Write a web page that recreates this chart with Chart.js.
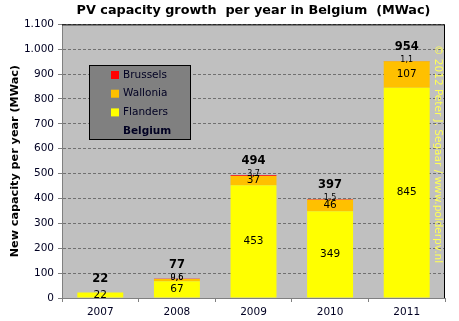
<!DOCTYPE html>
<html>
<head>
<meta charset="utf-8">
<script src="https://cdn.jsdelivr.net/npm/chart.js@4/dist/chart.umd.min.js"></script>
<style>
  html, body { margin: 0; padding: 0; background: #fff; }
  #wrap { width: 459px; height: 321px; }
</style>
</head>
<body>
<div id="wrap"><canvas id="pv"></canvas></div>
<script>
const years = ['2007', '2008', '2009', '2010', '2011'];
const flanders = [22, 67, 453, 349, 845];
const wallonia = [0, 9.6, 37, 46, 107];
const brussels = [0, 0.6, 3.7, 1.5, 1.1];
const totals = [22, 77, 494, 397, 954];
const yTicksMax = 1100;

const fmt = v => v.toLocaleString('nl-BE', { maximumFractionDigits: 1 });

// labels inside segments, totals on top, frame, legend box, watermark
const decor = {
  id: 'decor',
  beforeDatasetsDraw(chart) {
    const { ctx, chartArea: a } = chart;
    ctx.save();
    ctx.strokeStyle = '#000';
    ctx.lineWidth = 1;
    ctx.beginPath();
    ctx.moveTo(a.left, a.top + 0.5);
    ctx.lineTo(a.right - 0.5, a.top + 0.5);
    ctx.lineTo(a.right - 0.5, a.bottom);
    ctx.stroke();
    ctx.restore();
  },
  afterDatasetsDraw(chart) {
    const { ctx } = chart;
    ctx.save();
    ctx.textAlign = 'center';
    ctx.textBaseline = 'middle';
    ctx.fillStyle = '#000';
    chart.data.datasets.forEach((ds, i) => {
      const meta = chart.getDatasetMeta(i);
      meta.data.forEach((bar, j) => {
        const v = ds.data[j];
        if (!v) return;
        const small = v < 10;
        ctx.font = (small ? '8px' : '10.5px') + ' "DejaVu Sans"';
        const y = small ? Math.min(bar.y, bar.base) - 1 : (bar.y + bar.base) / 2;
        ctx.fillText(fmt(v), bar.x, y);
      });
    });
    const top = chart.getDatasetMeta(chart.data.datasets.length - 1);
    ctx.font = 'bold 11.5px "DejaVu Sans"';
    top.data.forEach((bar, j) => {
      const y = chart.scales.y.getPixelForValue(totals[j]);
      ctx.fillText(fmt(totals[j]), bar.x, y - 14);
    });

    // legend box
    const lx = 89, ly = 65, lw = 101, lh = 74;
    ctx.fillStyle = '#808080';
    ctx.fillRect(lx, ly, lw, lh);
    ctx.strokeStyle = '#000';
    ctx.strokeRect(lx + 0.5, ly + 0.5, lw, lh);
    const items = [...chart.data.datasets].reverse();
    ctx.textAlign = 'left';
    items.forEach((ds, k) => {
      const cy = ly + 10 + k * 18.7;
      ctx.fillStyle = ds.backgroundColor;
      ctx.fillRect(111, cy - 4, 8, 8);
      ctx.fillStyle = '#000022';
      ctx.font = '10.5px "DejaVu Sans"';
      ctx.fillText(ds.label, 123, cy);
    });
    ctx.font = 'bold 10.5px "DejaVu Sans"';
    ctx.fillText('Belgium', 123, ly + 10 + 3 * 18.7);

    // watermark
    ctx.translate(438, 45);
    ctx.rotate(Math.PI / 2);
    ctx.fillStyle = '#FFFF55';
    ctx.font = '10.5px "DejaVu Sans"';
    ctx.fillText('\u00A9 2012 Peter J. Segaar / www.polderpv.nl', 0, 0);
    ctx.restore();
  }
};

new Chart(document.getElementById('pv'), {
  type: 'bar',
  data: {
    labels: years,
    datasets: [
      { label: 'Flanders', data: flanders, backgroundColor: '#FFFF00' },
      { label: 'Wallonia', data: wallonia, backgroundColor: '#FFC000' },
      { label: 'Brussels', data: brussels, backgroundColor: '#FF0000' }
    ]
  },
  options: {
    responsive: true,
    maintainAspectRatio: false,
    animation: false,
    layout: { padding: { left: 0, right: 14, top: 0, bottom: 0 } },
    datasets: { bar: { barPercentage: 0.6, categoryPercentage: 1 } },
    plugins: {
      legend: { display: false },
      tooltip: { enabled: false },
      title: {
        display: true,
        fullSize: false,
        text: 'PV capacity growth  per year in Belgium  (MWac)',
        color: '#000',
        font: { family: 'DejaVu Sans', size: 12.8, weight: 'bold' },
        padding: { top: 3, bottom: 6 }
      }
    },
    scales: {
      x: {
        stacked: true,
        grid: { display: true, drawOnChartArea: false, drawTicks: true, tickLength: 4, color: '#808080', offset: true },
        border: { color: '#808080' },
        ticks: { color: '#000022', font: { family: 'DejaVu Sans', size: 10.5 }, padding: 4 },
        afterFit: s => { s.height = 23; }
      },
      y: {
        stacked: true,
        min: 0,
        max: yTicksMax,
        grid: { color: '#707070', tickColor: '#808080', tickLength: 4, tickBorderDash: [] },
        border: { color: '#808080', dash: [3, 2] },
        ticks: {
          stepSize: 100,
          color: '#000022',
          font: { family: 'DejaVu Sans', size: 10.5 },
          padding: 4,
          callback: v => fmt(v)
        },
        title: {
          display: true,
          text: 'New capacity per year (MWac)',
          color: '#000',
          font: { family: 'DejaVu Sans', size: 11.2, weight: 'bold' },
          padding: { top: 8, bottom: 0 }
        },
        afterFit: s => { s.width = 62; }
      }
    }
  },
  plugins: [decor, {
    id: 'plotBg',
    beforeDraw(chart) {
      const { ctx, chartArea: a } = chart;
      ctx.save();
      ctx.fillStyle = '#C0C0C0';
      ctx.fillRect(a.left, a.top, a.right - a.left, a.bottom - a.top);
      ctx.restore();
    }
  }]
});
</script>
</body>
</html>
